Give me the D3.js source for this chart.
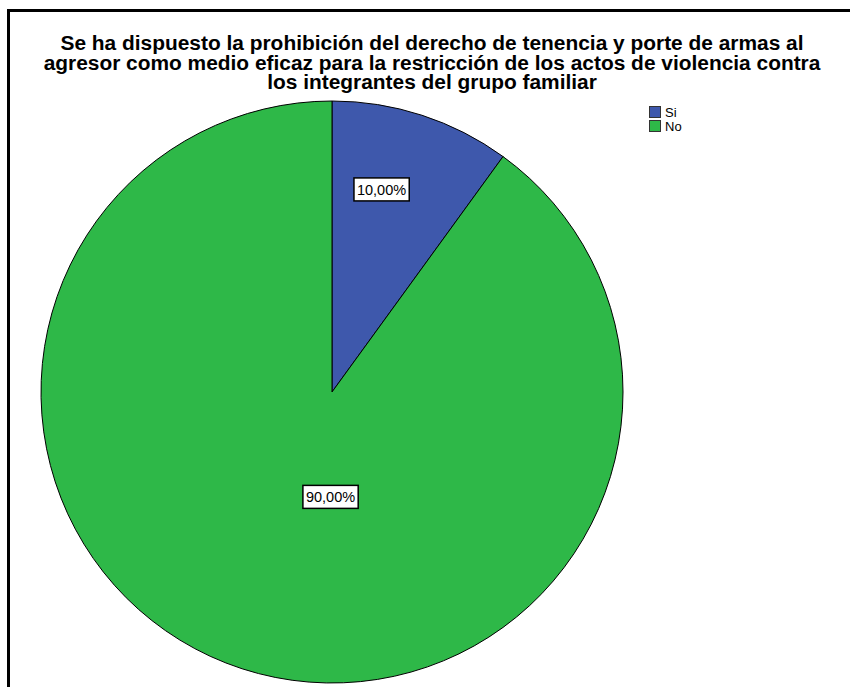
<!DOCTYPE html>
<html><head><meta charset="utf-8">
<script src="https://cdn.jsdelivr.net/npm/d3@7"></script>
<style>body{margin:0;background:#fff;}svg{display:block;}</style>
</head><body>
<svg id="c" width="850" height="687"></svg>
<script>
const categories = ["Si", "No"];
const values = [10, 90];
const labels = ["10,00%", "90,00%"];
const colors = ["#3E58AC", "#2EB848"];
const titleLines = [
  "Se ha dispuesto la prohibición del derecho de tenencia y porte de armas al",
  "agresor como medio eficaz para la restricción de los actos de violencia contra",
  "los integrantes del grupo familiar"
];

const svg = d3.select("#c");
// frame
svg.append("path").attr("d","M8.5,687 L8.5,10.5 L850,10.5").attr("fill","none").attr("stroke","#000").attr("stroke-width",3);

// title
svg.append("g").selectAll("text").data(titleLines).join("text")
  .attr("x",432).attr("y",(d,i)=>50+i*19.5)
  .attr("text-anchor","middle")
  .attr("font-family","Liberation Sans, Arial, sans-serif")
  .attr("font-weight","bold").attr("font-size",20.9).attr("fill","#000")
  .text(d=>d);

const cx=332, cy=392, R=291;
const pie = d3.pie().sort(null).value(d=>d)(values);
const arc = d3.arc().innerRadius(0).outerRadius(R);
const g = svg.append("g").attr("transform",`translate(${cx},${cy})`);
g.selectAll("path").data(pie).join("path")
  .attr("d",arc).attr("fill",(d,i)=>colors[i])
  .attr("stroke","#000").attr("stroke-width",1);

// labels: SPSS-style placement
const labelPos = [ {f:0.72, a:0.38}, {f:0.357, a:0.447} ];
pie.forEach((d,i)=>{
  const ang = d.startAngle + (d.endAngle-d.startAngle)*labelPos[i].a;
  const r = R*labelPos[i].f;
  const x = Math.sin(ang)*r, y = -Math.cos(ang)*r;
  const lg = g.append("g").attr("transform",`translate(${x},${y+1})`);
  const t = lg.append("text").attr("text-anchor","middle").attr("dy","0.36em")
    .attr("font-family","Liberation Sans, Arial, sans-serif").attr("font-size",14.5)
    .attr("fill","#000").text(labels[i]);
  const bb = t.node().getBBox();
  lg.insert("rect","text").attr("x",bb.x-3).attr("y",-11.5).attr("width",bb.width+6).attr("height",23)
    .attr("fill","#fff").attr("stroke","#000").attr("stroke-width",1.5);
});

// legend
const leg = svg.append("g").attr("transform","translate(649,106)");
categories.forEach((c,i)=>{
  leg.append("rect").attr("x",0.5).attr("y",i*14+0.5).attr("width",11).attr("height",11)
    .attr("fill",colors[i]).attr("stroke","#333").attr("stroke-width",1);
  leg.append("text").attr("x",16).attr("y",i*14+11)
    .attr("font-family","Liberation Sans, Arial, sans-serif").attr("font-size",13)
    .attr("fill","#000").text(c);
});
</script>
</body></html>
